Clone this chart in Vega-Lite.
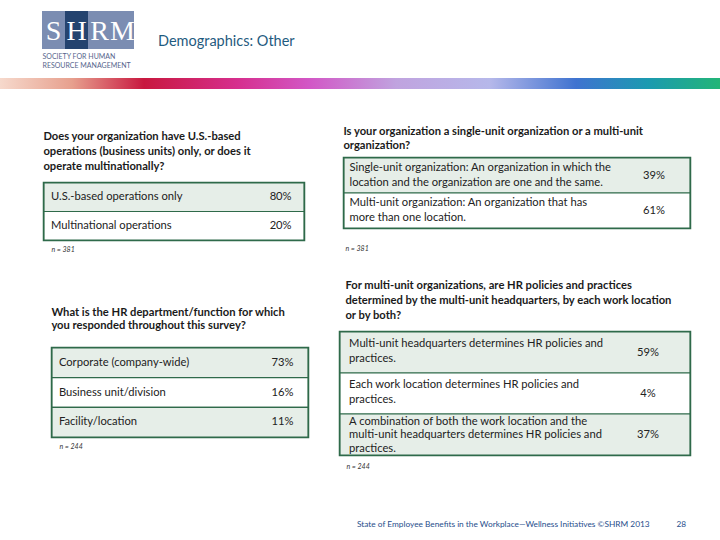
{
  "$schema": "https://vega.github.io/schema/vega-lite/v6.json",
  "padding": 0,
  "background": "white",
  "spacing": 0,
  "config": {
    "view": {"stroke": null},
    "concat": {"spacing": 0},
    "font": "Lato",
    "title": {"font": "Lato"}
  },
  "datasets": {
    "rows": [
      {"q": "t1", "order": 1, "option": "U.S.-based operations only", "pct": 0.80},
      {"q": "t1", "order": 2, "option": "Multinational operations", "pct": 0.20},
      {"q": "t2", "order": 1, "option": "Single-unit organization: An organization in which the\nlocation and the organization are one and the same.", "pct": 0.39},
      {"q": "t2", "order": 2, "option": "Multi-unit organization: An organization that has\nmore than one location.", "pct": 0.61},
      {"q": "t3", "order": 1, "option": "Corporate (company-wide)", "pct": 0.73},
      {"q": "t3", "order": 2, "option": "Business unit/division", "pct": 0.16},
      {"q": "t3", "order": 3, "option": "Facility/location", "pct": 0.11},
      {"q": "t4", "order": 1, "option": "Multi-unit headquarters determines HR policies and\npractices.", "pct": 0.59},
      {"q": "t4", "order": 2, "option": "Each work location determines HR policies and\npractices.", "pct": 0.04},
      {"q": "t4", "order": 3, "option": "A combination of both the work location and the\nmulti-unit headquarters determines HR policies and\npractices.", "pct": 0.37}
    ],
    "logo": [
      {"letter": "S"}, {"letter": "H"}, {"letter": "R"}, {"letter": "M"}
    ]
  },
  "vconcat": [
    {
      "spacing": 0,
      "hconcat": [
        {"width": 42, "height": 78, "data": {"values": []}, "mark": "rect", "encoding": {}},
        {
          "spacing": 0,
          "vconcat": [
            {"width": 1, "height": 11, "data": {"values": []}, "mark": "rect", "encoding": {}},
            {
              "width": 92, "height": 38,
              "data": {"name": "logo"},
              "encoding": {
                "x": {"field": "letter", "type": "nominal", "sort": ["S", "H", "R", "M"],
                  "scale": {"paddingInner": 0, "paddingOuter": 0},
                  "axis": {"domain": false, "ticks": false, "labels": false,
                    "title": ["SOCIETY FOR HUMAN", "RESOURCE MANAGEMENT"],
                    "titleAnchor": "start", "titleAlign": "left", "titleFontSize": 7,
                    "titleFontWeight": "normal", "titleColor": "#56658C", "titlePadding": 3,
                    "titleLineHeight": 9}}
              },
              "layer": [
                {"mark": {"type": "rect"},
                 "encoding": {"fill": {"condition": {"test": "datum.letter == 'H'", "value": "#24436F"}, "value": "#7B8DB2"}}},
                {"mark": {"type": "text", "font": "Liberation Serif", "fontSize": 28, "color": "white", "baseline": "middle", "dy": 2},
                 "encoding": {"text": {"field": "letter"}}}
              ]
            }
          ]
        },
        {"width": 23, "height": 1, "data": {"values": []}, "mark": "rect", "encoding": {}},
        {
          "spacing": 0,
          "vconcat": [
            {"width": 1, "height": 31, "data": {"values": []}, "mark": "rect", "encoding": {}},
            {
              "width": 139, "height": 22,
              "data": {"values": [{}]},
              "mark": {"type": "text", "align": "left", "baseline": "middle", "fontSize": 14.5, "color": "#1F5B80", "text": "Demographics: Other"},
              "encoding": {"x": {"datum": 0, "type": "quantitative", "scale": {"domain": [0, 1]}, "axis": null}}
            }
          ]
        }
      ]
    },
    {
      "width": 720, "height": 11,
      "data": {"values": [{}]},
      "mark": {"type": "rect", "color": {"gradient": "linear", "x1": 0, "x2": 1, "y1": 0, "y2": 0,
        "stops": [
          {"offset": 0, "color": "#F6D9CC"},
          {"offset": 0.1, "color": "#E7A08E"},
          {"offset": 0.2, "color": "#C8183F"},
          {"offset": 0.33, "color": "#D62F8E"},
          {"offset": 0.43, "color": "#D257C6"},
          {"offset": 0.55, "color": "#C0A3DF"},
          {"offset": 0.68, "color": "#B6B8EA"},
          {"offset": 0.8, "color": "#3F73D0"},
          {"offset": 0.9, "color": "#1B9AB0"},
          {"offset": 1, "color": "#23B577"}
        ]}},
      "encoding": {}
    },
    {
      "spacing": 0,
      "hconcat": [
        {"width": 42, "height": 1, "data": {"values": []}, "mark": "rect", "encoding": {}},
        {
          "spacing": 0,
          "vconcat": [
            {"width": 1, "height": 40, "data": {"values": []}, "mark": "rect", "encoding": {}},
            {
              "width": 260, "height": 57,
              "view": {"stroke": "#2F6A4A", "strokeWidth": 2.5},
              "title": {"text": ["Does your organization have U.S.-based", "operations (business units) only, or does it", "operate multinationally?"],
                "anchor": "start", "fontSize": 11.2, "fontWeight": "bold", "lineHeight": 15, "offset": 10, "color": "#1a1a1a"},
              "data": {"name": "rows"},
              "transform": [{"filter": "datum.q == 't1'"}],
              "encoding": {"y": {"field": "option", "type": "nominal", "sort": {"field": "order"}, "scale": {"paddingInner": 0, "paddingOuter": 0}, "axis": null}},
              "layer": [
                {"mark": {"type": "rect", "stroke": "#2F6A4A", "strokeWidth": 1.2},
                 "encoding": {"fill": {"condition": {"test": "datum.order % 2 == 1", "value": "#E6EEE8"}, "value": "#ffffff"}}},
                {"mark": {"type": "text", "align": "left", "baseline": "middle", "fontSize": 11.2, "color": "#222222"},
                 "encoding": {"text": {"field": "option"},
                   "x": {"datum": 0.027, "type": "quantitative", "scale": {"domain": [0, 1]},
                     "axis": {"domain": false, "ticks": false, "labels": false, "grid": false, "title": "n = 381",
                       "titleFontSize": 7, "titleFontStyle": "italic", "titleFontWeight": "normal", "titleColor": "#333333",
                       "titleAnchor": "start", "titleAlign": "left", "titleX": 7, "titlePadding": 5}}}},
                {"mark": {"type": "text", "align": "center", "baseline": "middle", "fontSize": 11.2, "color": "#222222"},
                 "encoding": {"text": {"field": "pct", "format": ".0%"}, "x": {"datum": 0.91, "type": "quantitative"}}}
              ]
            },
            {"width": 1, "height": 51, "data": {"values": []}, "mark": "rect", "encoding": {}},
            {
              "spacing": 0,
              "hconcat": [
                {"width": 6, "height": 1, "data": {"values": []}, "mark": "rect", "encoding": {}},
                {
                  "width": 256, "height": 89,
                  "view": {"stroke": "#2F6A4A", "strokeWidth": 2.5},
                  "title": {"text": ["What is the HR department/function for which", "you responded throughout this survey?"],
                    "anchor": "start", "fontSize": 11.2, "fontWeight": "bold", "lineHeight": 13.5, "offset": 16, "color": "#1a1a1a"},
                  "data": {"name": "rows"},
                  "transform": [{"filter": "datum.q == 't3'"}],
                  "encoding": {"y": {"field": "option", "type": "nominal", "sort": {"field": "order"}, "scale": {"paddingInner": 0, "paddingOuter": 0}, "axis": null}},
                  "layer": [
                    {"mark": {"type": "rect", "stroke": "#2F6A4A", "strokeWidth": 1.2},
                     "encoding": {"fill": {"condition": {"test": "datum.order % 2 == 1", "value": "#E6EEE8"}, "value": "#ffffff"}}},
                    {"mark": {"type": "text", "align": "left", "baseline": "middle", "fontSize": 11.2, "color": "#222222"},
                     "encoding": {"text": {"field": "option"},
                       "x": {"datum": 0.027, "type": "quantitative", "scale": {"domain": [0, 1]},
                         "axis": {"domain": false, "ticks": false, "labels": false, "grid": false, "title": "n = 244",
                           "titleFontSize": 7, "titleFontStyle": "italic", "titleFontWeight": "normal", "titleColor": "#333333",
                           "titleAnchor": "start", "titleAlign": "left", "titleX": 7, "titlePadding": 5}}}},
                    {"mark": {"type": "text", "align": "center", "baseline": "middle", "fontSize": 11.2, "color": "#222222"},
                     "encoding": {"text": {"field": "pct", "format": ".0%"}, "x": {"datum": 0.9, "type": "quantitative"}}}
                  ]
                }
              ]
            }
          ]
        },
        {"width": 28, "height": 1, "data": {"values": []}, "mark": "rect", "encoding": {}},
        {
          "spacing": 0,
          "vconcat": [
            {"width": 1, "height": 35, "data": {"values": []}, "mark": "rect", "encoding": {}},
            {
              "spacing": 0,
              "hconcat": [
                {"width": 2, "height": 1, "data": {"values": []}, "mark": "rect", "encoding": {}},
                {
                  "width": 346, "height": 70,
                  "view": {"stroke": "#2F6A4A", "strokeWidth": 2.5},
                  "title": {"text": ["Is your organization a single-unit organization or a multi-unit", "organization?"],
                    "anchor": "start", "fontSize": 11.2, "fontWeight": "bold", "lineHeight": 14, "offset": 6, "color": "#1a1a1a"},
                  "data": {"name": "rows"},
                  "transform": [{"filter": "datum.q == 't2'"}],
                  "encoding": {"y": {"field": "option", "type": "nominal", "sort": {"field": "order"}, "scale": {"paddingInner": 0, "paddingOuter": 0}, "axis": null}},
                  "layer": [
                    {"mark": {"type": "rect", "stroke": "#2F6A4A", "strokeWidth": 1.2},
                     "encoding": {"fill": {"condition": {"test": "datum.order % 2 == 1", "value": "#E6EEE8"}, "value": "#ffffff"}}},
                    {"mark": {"type": "text", "align": "left", "baseline": "middle", "fontSize": 11.2, "lineBreak": "\n", "lineHeight": 14.5, "dy": -7.25, "color": "#222222"},
                     "encoding": {"text": {"field": "option"},
                       "x": {"datum": 0.016, "type": "quantitative", "scale": {"domain": [0, 1]},
                         "axis": {"domain": false, "ticks": false, "labels": false, "grid": false, "title": "n = 381",
                           "titleFontSize": 7, "titleFontStyle": "italic", "titleFontWeight": "normal", "titleColor": "#333333",
                           "titleAnchor": "start", "titleAlign": "left", "titleX": 1, "titlePadding": 16}}}},
                    {"mark": {"type": "text", "align": "center", "baseline": "middle", "fontSize": 11.2, "color": "#222222"},
                     "encoding": {"text": {"field": "pct", "format": ".0%"}, "x": {"datum": 0.896, "type": "quantitative"}}}
                  ]
                }
              ]
            },
            {"width": 1, "height": 25, "data": {"values": []}, "mark": "rect", "encoding": {}},
            {
              "width": 350, "height": 123,
              "view": {"stroke": "#2F6A4A", "strokeWidth": 2.5},
              "title": {"text": ["For multi-unit organizations, are HR policies and practices", "determined by the multi-unit headquarters, by each work location", "or by both?"],
                "anchor": "start", "fontSize": 11.2, "fontWeight": "bold", "lineHeight": 15, "offset": 10, "dx": 6, "color": "#1a1a1a"},
              "data": {"name": "rows"},
              "transform": [{"filter": "datum.q == 't4'"}],
              "encoding": {"y": {"field": "option", "type": "nominal", "sort": {"field": "order"}, "scale": {"paddingInner": 0, "paddingOuter": 0}, "axis": null}},
              "layer": [
                {"mark": {"type": "rect", "stroke": "#2F6A4A", "strokeWidth": 1.2},
                 "encoding": {"fill": {"condition": {"test": "datum.order % 2 == 1", "value": "#E6EEE8"}, "value": "#ffffff"}}},
                {"transform": [{"filter": "length(split(datum.option, '\\n')) == 2"}],
                 "mark": {"type": "text", "align": "left", "baseline": "middle", "fontSize": 11.2, "lineBreak": "\n", "lineHeight": 15, "dy": -8.5, "color": "#222222"},
                 "encoding": {"text": {"field": "option"},
                   "x": {"datum": 0.026, "type": "quantitative", "scale": {"domain": [0, 1]},
                     "axis": {"domain": false, "ticks": false, "labels": false, "grid": false, "title": "n = 244",
                       "titleFontSize": 7, "titleFontStyle": "italic", "titleFontWeight": "normal", "titleColor": "#333333",
                       "titleAnchor": "start", "titleAlign": "left", "titleX": 6, "titlePadding": 7}}}},
                {"transform": [{"filter": "length(split(datum.option, '\\n')) == 3"}],
                 "mark": {"type": "text", "align": "left", "baseline": "middle", "fontSize": 11.2, "lineBreak": "\n", "lineHeight": 13.5, "dy": -13, "color": "#222222"},
                 "encoding": {"text": {"field": "option"},
                   "x": {"datum": 0.026, "type": "quantitative"}}},
                {"mark": {"type": "text", "align": "center", "baseline": "middle", "fontSize": 11.2, "color": "#222222"},
                 "encoding": {"text": {"field": "pct", "format": ".0%"}, "x": {"datum": 0.88, "type": "quantitative"}}}
              ]
            }
          ]
        }
      ]
    },
    {"width": 1, "height": 44, "data": {"values": []}, "mark": "rect", "encoding": {}},
    {
      "spacing": 0,
      "hconcat": [
        {"width": 357, "height": 1, "data": {"values": []}, "mark": "rect", "encoding": {}},
        {
          "width": 329, "height": 20,
          "data": {"values": [{}]},
          "layer": [
            {"mark": {"type": "text", "align": "left", "baseline": "middle", "fontSize": 8.3, "color": "#1F4E8C", "text": "State of Employee Benefits in the Workplace\u2014Wellness Initiatives  \u00a9SHRM 2013"},
             "encoding": {"x": {"datum": 0, "type": "quantitative", "scale": {"domain": [0, 1]}, "axis": null}}},
            {"mark": {"type": "text", "align": "right", "baseline": "middle", "fontSize": 8.3, "color": "#1F4E8C", "text": "28"},
             "encoding": {"x": {"datum": 1, "type": "quantitative"}}}
          ]
        }
      ]
    }
  ]
}
